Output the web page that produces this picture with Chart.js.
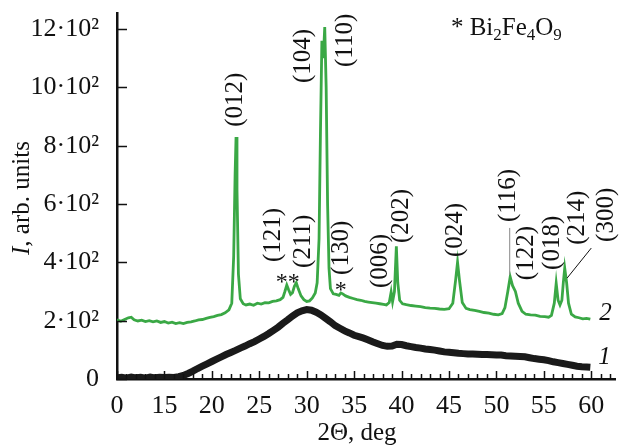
<!DOCTYPE html>
<html>
<head>
<meta charset="utf-8">
<script src="https://cdn.jsdelivr.net/npm/chart.js@4.4.1/dist/chart.umd.min.js"></script>
<style>
  html, body { margin: 0; padding: 0; background: #fff; }
  canvas { display: block; }
</style>
</head>
<body>
<canvas id="xrd" width="623" height="446"></canvas>
<script>
/* ---- data ---- */
// curve 2 (green): 2Theta, intensity
const greenX = [10.0, 10.4, 10.8, 11.2, 11.5, 11.8, 12.2, 12.6, 13.0, 13.4, 13.8, 14.2, 14.6, 15.0, 15.4, 15.8,
  16.2, 16.6, 17.0, 17.4, 17.8, 18.2, 18.6, 19.0, 19.4, 19.8, 20.2, 20.6, 21.0, 21.4, 21.8, 22.1, 22.3, 22.45,
  22.55, 22.65, 22.8, 23.0, 23.3, 23.6, 24.0, 24.4, 24.8, 25.2, 25.6, 26.0, 26.4, 26.8, 27.2, 27.5, 27.7, 27.9,
  28.1, 28.3, 28.5, 28.7, 28.9, 29.1, 29.4, 29.7, 30.0, 30.3, 30.6, 30.9, 31.1, 31.3, 31.45, 31.6, 31.75, 31.9,
  32.05, 32.2, 32.35, 32.5, 32.8, 33.1, 33.4, 33.6, 33.8, 34.1, 34.5, 34.9, 35.3, 35.7, 36.1, 36.5, 36.9, 37.3,
  37.7, 38.1, 38.4, 38.7, 38.9, 39.05, 39.25, 39.45, 39.6, 39.8, 40.1, 40.5, 41.0, 41.5, 42.0, 42.5, 43.0, 43.5,
  44.0, 44.5, 45.0, 45.4, 45.7, 45.9, 46.1, 46.4, 46.8, 47.2, 47.7, 48.2, 48.7, 49.2, 49.7, 50.2, 50.6, 50.9,
  51.2, 51.45, 51.7, 52.0, 52.3, 52.7, 53.1, 53.6, 54.1, 54.6, 55.1, 55.5, 55.8, 56.1, 56.3, 56.5, 56.7, 56.9,
  57.05, 57.2, 57.4, 57.6, 57.9, 58.3, 58.7, 59.1, 59.5, 59.9];
const greenY = [203, 198, 204, 210, 212, 203, 199, 202, 197, 200, 196, 199, 194, 197, 192, 195,
  190, 193, 190, 194, 196, 199, 203, 204, 208, 211, 214, 218, 221, 227, 237, 260, 420, 700,
  830, 650, 360, 275, 258, 254, 257, 253, 260, 257, 262, 261, 266, 268, 272, 280, 300, 322,
  305, 290, 296, 318, 330, 310, 285, 272, 266, 268, 278, 295, 330, 480, 850, 1160, 1100, 1207,
  1000, 600, 380, 310, 292, 290, 287, 295, 292, 285, 280, 276, 272, 270, 266, 264, 262, 260,
  258, 256, 254, 262, 298, 265, 300, 455, 330, 270, 258, 255, 252, 250, 248, 245, 243, 242,
  240, 239, 241, 260, 340, 400, 340, 262, 242, 238, 235, 232, 228, 226, 222, 220, 224, 245,
  300, 350, 320, 300, 260, 232, 222, 220, 219, 215, 214, 212, 218, 260, 328, 270, 254, 270,
  330, 380, 330, 260, 222, 213, 210, 206, 208, 205];

// curve 1 (black)
const blackX = [10.0, 10.5, 11.0, 11.5, 12.0, 12.5, 13.0, 13.5, 14.0, 14.5, 15.0, 15.5, 16.0, 16.5, 17.0, 17.5,
  18.0, 18.5, 19.0, 19.5, 20.0, 20.5, 21.0, 21.5, 22.0, 22.5, 23.0, 23.5, 24.0, 24.5, 25.0, 25.5, 26.0, 26.5,
  27.0, 27.5, 28.0, 28.5, 29.0, 29.5, 30.0, 30.5, 31.0, 31.5, 32.0, 32.5, 33.0, 33.5, 34.0, 34.5, 35.0, 35.5,
  36.0, 36.5, 37.0, 37.5, 38.0, 38.5, 39.0, 39.5, 40.0, 40.5, 41.0, 41.5, 42.0, 42.5, 43.0, 43.5, 44.0, 44.5,
  45.0, 45.5, 46.0, 46.5, 47.0, 47.5, 48.0, 48.5, 49.0, 49.5, 50.0, 50.5, 51.0, 51.5, 52.0, 52.5, 53.0, 53.5,
  54.0, 54.5, 55.0, 55.5, 56.0, 56.5, 57.0, 57.5, 58.0, 58.5, 59.0, 59.5, 59.9];
const blackY = [4, 6, 3, 7, 4, 6, 3, 7, 4, 6, 5, 6, 5, 8, 12, 19,
  27, 36, 44, 52, 60, 68, 76, 84, 91, 98, 106, 113, 121, 128, 137, 146, 156, 167,
  178, 191, 203, 216, 227, 234, 238, 236, 229, 220, 208, 196, 183, 174, 165, 158, 150, 145,
  140, 134, 127, 121, 115, 112, 113, 119, 118, 114, 111, 108, 106, 103, 101, 99, 96, 93,
  92, 90, 88, 87, 86, 86, 85, 84, 84, 83, 82, 82, 80, 79, 78, 77, 76, 73,
  70, 68, 66, 63, 59, 56, 53, 50, 47, 44, 42, 41, 40];

// axis ticks (the first x label is printed as "0" in the original)
const xTickValues = [10, 15, 20, 25, 30, 35, 40, 45, 50, 55, 60];
const xTickLabels = ['0', '15', '20', '25', '30', '35', '40', '45', '50', '55', '60'];
const yTickValues = [0, 200, 400, 600, 800, 1000, 1200];
const yTickLabels = ['0', '2·10²', '4·10²', '6·10²', '8·10²', '10·10²', '12·10²'];

// reflection labels
const peakNames = ['(012)', '(104)', '(110)', '(121)', '(211)', '(130)', '(006)', '(202)', '(024)',
  '(116)', '(122)', '(018)', '(214)', '(300)'];
const peakLabelX = [22.5, 29.7, 34.1, 26.5, 29.7, 33.7, 37.8, 40.0, 45.7, 51.3, 53.2, 55.9, 58.5, 61.6];
const peakLabelY = [865, 1015, 1070, 401, 381, 357, 312, 466, 418, 538, 339, 374, 460, 470];

const FONT = '"Liberation Serif", "DejaVu Serif", serif';
const INK = '#111';

const toPoints = (xs, ys) => xs.map((x, i) => ({ x, y: ys[i] }));

// keep the plot box where the original has it
const noPad = (s) => { s.paddingTop = 0; s.paddingBottom = 0; s.paddingLeft = 0; s.paddingRight = 0; };

/* ---- extra drawing: inward ticks, labels, titles ---- */
const overlay = {
  id: 'overlay',
  afterDraw(chart) {
    const { ctx, chartArea: a, scales: { x, y } } = chart;
    ctx.save();

    // inward ticks
    ctx.strokeStyle = INK;
    ctx.lineWidth = 1.5;
    ctx.beginPath();
    for (let v = 10; v <= 62; v++) {
      const px = Math.round(x.getPixelForValue(v)) + 0.5;
      const len = v % 5 === 0 ? 8 : 5;
      ctx.moveTo(px, a.bottom);
      ctx.lineTo(px, a.bottom - len);
    }
    yTickValues.forEach((v) => {
      const py = Math.round(y.getPixelForValue(v)) + 0.5;
      ctx.moveTo(a.left, py);
      ctx.lineTo(a.left + 10, py);
    });
    ctx.stroke();

    // reflection labels, rotated
    ctx.fillStyle = INK;
    ctx.font = `25px ${FONT}`;
    ctx.textAlign = 'left';
    ctx.textBaseline = 'middle';
    peakNames.forEach((name, i) => {
      ctx.save();
      ctx.translate(x.getPixelForValue(peakLabelX[i]), y.getPixelForValue(peakLabelY[i]));
      ctx.rotate(-Math.PI / 2);
      ctx.fillText(name, 0, 0);
      ctx.restore();
    });

    // asterisks for Bi2Fe4O9 reflections
    ctx.textAlign = 'center';
    ctx.textBaseline = 'alphabetic';
    ctx.font = `24px ${FONT}`;
    ctx.fillText('**', x.getPixelForValue(28.0), y.getPixelForValue(310));
    ctx.fillText('*', x.getPixelForValue(33.6), y.getPixelForValue(280));

    // leader lines
    ctx.lineWidth = 1;
    ctx.strokeStyle = '#888';
    ctx.beginPath();
    ctx.moveTo(x.getPixelForValue(51.4), y.getPixelForValue(518));
    ctx.lineTo(x.getPixelForValue(51.4), y.getPixelForValue(357));
    ctx.stroke();
    ctx.strokeStyle = INK;
    ctx.beginPath();
    ctx.moveTo(x.getPixelForValue(60.0), y.getPixelForValue(449));
    ctx.lineTo(x.getPixelForValue(57.45), y.getPixelForValue(346));
    ctx.stroke();

    // phase note: * Bi2Fe4O9
    let tx = x.getPixelForValue(45.2);
    const ty = y.getPixelForValue(1179);
    ctx.textAlign = 'left';
    [['* Bi', 0], ['2', 1], ['Fe', 0], ['4', 1], ['O', 0], ['9', 1]].forEach(([t, sub]) => {
      ctx.font = sub ? `17px ${FONT}` : `25px ${FONT}`;
      ctx.fillText(t, tx, ty + (sub ? 5 : 0));
      tx += ctx.measureText(t).width;
    });

    // curve numbers
    ctx.font = `italic 25px ${FONT}`;
    ctx.textAlign = 'center';
    ctx.textBaseline = 'middle';
    ctx.fillText('2', x.getPixelForValue(61.5), y.getPixelForValue(226));
    ctx.fillText('1', x.getPixelForValue(61.4), y.getPixelForValue(75));

    // x title
    ctx.font = `25px ${FONT}`;
    ctx.textBaseline = 'alphabetic';
    ctx.fillText('2Θ, deg', 357, 440);

    // y title: italic I + rest
    ctx.save();
    ctx.translate(22, 255);
    ctx.rotate(-Math.PI / 2);
    ctx.textAlign = 'left';
    ctx.textBaseline = 'middle';
    ctx.font = `italic 25px ${FONT}`;
    ctx.fillText('I', 0, 0);
    const w = ctx.measureText('I').width;
    ctx.font = `25px ${FONT}`;
    ctx.fillText(', arb. units', w, 0);
    ctx.restore();

    ctx.restore();
  }
};

new Chart(document.getElementById('xrd'), {
  type: 'scatter',
  data: {
    datasets: [
      {
        label: '2',
        data: toPoints(greenX, greenY),
        showLine: true,
        borderColor: '#3aa845',
        borderWidth: 2.8,
        pointRadius: 0,
        tension: 0
      },
      {
        label: '1',
        data: toPoints(blackX, blackY),
        showLine: true,
        borderColor: '#1a1a1a',
        borderWidth: 7,
        pointRadius: 0,
        tension: 0
      }
    ]
  },
  options: {
    responsive: false,
    animation: false,
    events: [],
    layout: { padding: { top: 13, right: 8, left: 0, bottom: 0 } },
    plugins: { legend: { display: false }, tooltip: { enabled: false } },
    scales: {
      x: {
        type: 'linear',
        min: 10,
        max: 62.5,
        grid: { display: false },
        border: { display: true, color: INK, width: 2.5 },
        afterBuildTicks: (s) => { s.ticks = xTickValues.map((v) => ({ value: v })); },
        afterFit: (s) => { s.height = 67; noPad(s); },
        ticks: {
          padding: 4,
          color: INK,
          autoSkip: false,
          maxRotation: 0,
          font: { family: FONT, size: 26 },
          callback: (v, i) => xTickLabels[i]
        }
      },
      y: {
        min: 0,
        max: 1255,
        grid: { display: false },
        border: { display: true, color: INK, width: 2.5 },
        afterBuildTicks: (s) => { s.ticks = yTickValues.map((v) => ({ value: v })); },
        afterFit: (s) => { s.width = 117; noPad(s); },
        ticks: {
          padding: 10,
          color: INK,
          autoSkip: false,
          font: { family: FONT, size: 26 },
          callback: (v, i) => yTickLabels[i]
        }
      }
    }
  },
  plugins: [overlay]
});
</script>
</body>
</html>
